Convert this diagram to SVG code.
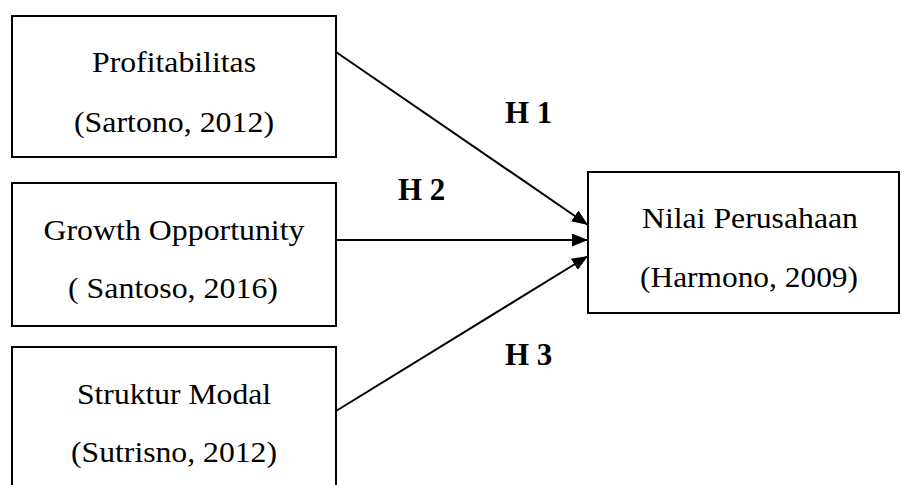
<svg xmlns="http://www.w3.org/2000/svg" width="902" height="485" viewBox="0 0 902 485">
  <style>
    .box { fill: #ffffff; stroke: #000000; stroke-width: 2; }
    .t { font-family: "Liberation Serif", "Times New Roman", serif; font-size: 29px; fill: #000000; text-anchor: middle; }
    .h { font-family: "Liberation Serif", "Times New Roman", serif; font-size: 31px; font-weight: bold; fill: #000000; }
    .edge { stroke: #000000; stroke-width: 2; fill: none; marker-end: url(#arrow); }
  </style>
  <defs>
    <marker id="arrow" markerUnits="userSpaceOnUse" markerWidth="16" markerHeight="13" refX="16" refY="6.5" orient="auto">
      <path d="M0,0 L16,6.5 L0,13 z" fill="#000000"/>
    </marker>
  </defs>
  <rect width="902" height="485" fill="#ffffff"/>

  <g id="node-profitabilitas">
    <rect class="box" x="12" y="16" width="324" height="141"/>
    <text class="t" x="174" y="72" textLength="164" lengthAdjust="spacingAndGlyphs">Profitabilitas</text>
    <text class="t" x="174" y="132" textLength="200" lengthAdjust="spacingAndGlyphs">(Sartono, 2012)</text>
  </g>

  <g id="node-growth">
    <rect class="box" x="12" y="183" width="324" height="143"/>
    <text class="t" x="174" y="240" textLength="261" lengthAdjust="spacingAndGlyphs">Growth Opportunity</text>
    <text class="t" x="173" y="298" textLength="210" lengthAdjust="spacingAndGlyphs">( Santoso, 2016)</text>
  </g>

  <g id="node-struktur">
    <rect class="box" x="12" y="347" width="324" height="150"/>
    <text class="t" x="174" y="404" textLength="194" lengthAdjust="spacingAndGlyphs">Struktur Modal</text>
    <text class="t" x="174" y="462" textLength="206" lengthAdjust="spacingAndGlyphs">(Sutrisno, 2012)</text>
  </g>

  <g id="node-nilai">
    <rect class="box" x="588" y="172" width="311" height="141"/>
    <text class="t" x="750" y="228" textLength="216" lengthAdjust="spacingAndGlyphs">Nilai Perusahaan</text>
    <text class="t" x="749" y="287" textLength="218" lengthAdjust="spacingAndGlyphs">(Harmono, 2009)</text>
  </g>

  <g id="connectors">
    <line class="edge" x1="336" y1="52" x2="588" y2="225"/>
    <line class="edge" x1="336" y1="240" x2="588" y2="240"/>
    <line class="edge" x1="336" y1="411" x2="588" y2="256"/>
    <text class="h" x="505" y="123">H 1</text>
    <text class="h" x="398" y="200">H 2</text>
    <text class="h" x="505" y="365">H 3</text>
  </g>
</svg>
